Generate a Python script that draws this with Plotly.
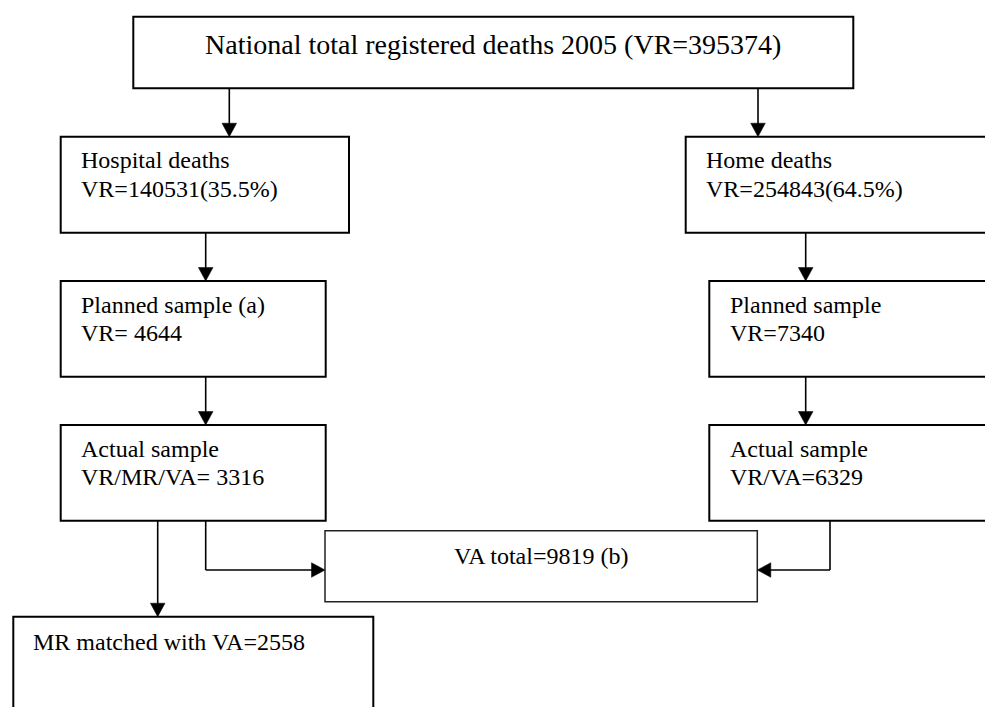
import plotly.graph_objects as go

total_label = "National total registered deaths 2005"
total_vr = 395374
hospital_vr = 140531
hospital_pct = 35.5
home_vr = 254843
home_pct = 64.5
planned_hospital = 4644
planned_home = 7340
actual_hospital = 3316
actual_home = 6329
va_total = 9819
mr_matched = 2558

W, H = 985, 707
FONT = "Liberation Serif, Times New Roman, serif"

# ---- box geometry (pixel layout) ----
boxes = {
    "top":      (133.3, 16.7, 853.3, 88.3),
    "hosp":     (60.7, 136.7, 349.0, 232.7),
    "home":     (685.7, 136.7, 1010, 232.7),
    "hplan":    (60.7, 281.0, 325.7, 376.7),
    "mplan":    (709.3, 281.0, 1010, 376.7),
    "hact":     (60.7, 425.0, 325.7, 520.7),
    "mact":     (709.3, 425.0, 1010, 520.7),
    "va":       (325.0, 530.7, 757.3, 601.7),
    "mr":       (13.3, 616.7, 373.3, 730),
}

shapes = []
for name, (x0, y0, x1, y1) in boxes.items():
    lw = 1.5 if name == "va" else 2
    col = "#222" if name == "va" else "black"
    shapes.append(dict(type="rect", xref="x", yref="y", x0=x0, y0=y0, x1=x1, y1=y1,
                       line=dict(color=col, width=lw), fillcolor="rgba(0,0,0,0)", layer="above"))

LW = 1.6
HL, HW = 13.5, 7.3  # arrowhead length, half width


def vline_arrow(x, y0, y1):
    shapes.append(dict(type="line", xref="x", yref="y", x0=x, x1=x, y0=y0, y1=y1 - HL + 1,
                       line=dict(color="black", width=LW)))
    shapes.append(dict(type="path", xref="x", yref="y",
                       path=f"M {x-HW},{y1-HL} L {x+HW},{y1-HL} L {x},{y1} Z",
                       fillcolor="black", line=dict(color="black", width=0.5)))


def elbow_arrow(x, y0, ymid, x1):
    shapes.append(dict(type="line", xref="x", yref="y", x0=x, x1=x, y0=y0, y1=ymid,
                       line=dict(color="black", width=LW)))
    d = 1 if x1 > x else -1
    shapes.append(dict(type="line", xref="x", yref="y", x0=x, x1=x1 - d * (HL - 1), y0=ymid, y1=ymid,
                       line=dict(color="black", width=LW)))
    shapes.append(dict(type="path", xref="x", yref="y",
                       path=f"M {x1-d*HL},{ymid-HW} L {x1-d*HL},{ymid+HW} L {x1},{ymid} Z",
                       fillcolor="black", line=dict(color="black", width=0.5)))


b = boxes
vline_arrow(229.3, b["top"][3], b["hosp"][1])
vline_arrow(758.0, b["top"][3], b["home"][1])
vline_arrow(205.7, b["hosp"][3], b["hplan"][1])
vline_arrow(805.7, b["home"][3], b["mplan"][1])
vline_arrow(205.7, b["hplan"][3], b["hact"][1])
vline_arrow(805.7, b["mplan"][3], b["mact"][1])
vline_arrow(157.7, b["hact"][3], b["mr"][1])
elbow_arrow(205.7, b["hact"][3], 570.0, b["va"][0])
elbow_arrow(830.0, b["mact"][3], 570.0, b["va"][2])

annotations = []


def txt(x, baseline, s, size=24, anchor="left"):
    annotations.append(dict(x=x, y=baseline - 0.34 * size, xref="x", yref="y", text=s,
                            showarrow=False, xanchor=anchor, yanchor="middle",
                            font=dict(family=FONT, size=size, color="black"), borderpad=0))


txt(493.3, 54.3, f"{total_label} (VR={total_vr})", size=28, anchor="center")
txt(80.0, 168.3, "Hospital deaths")
txt(80.0, 197.3, f"VR={hospital_vr}({hospital_pct}%)")
txt(80.0, 313.3, "Planned sample (a)")
txt(80.0, 340.7, f"VR= {planned_hospital}")
txt(80.0, 457.3, "Actual sample")
txt(80.0, 485.0, f"VR/MR/VA= {actual_hospital}")
txt(704.5, 168.3, "Home deaths")
txt(704.5, 197.3, f"VR={home_vr}({home_pct}%)")
txt(728.5, 313.3, "Planned sample")
txt(728.5, 340.7, f"VR={planned_home}")
txt(728.5, 457.3, "Actual sample")
txt(728.5, 485.0, f"VR/VA={actual_home}")
txt(541.2, 564.3, f"VA total={va_total} (b)", anchor="center")
txt(32.0, 650.0, f"MR matched with VA={mr_matched}")

fig = go.Figure()
fig.add_trace(go.Scatter(x=[0, W], y=[0, H], mode="markers", marker=dict(opacity=0),
                         hoverinfo="skip", showlegend=False))
fig.update_layout(
    width=W, height=H, margin=dict(l=0, r=0, t=0, b=0),
    paper_bgcolor="white", plot_bgcolor="white",
    xaxis=dict(range=[0, W], visible=False, fixedrange=True),
    yaxis=dict(range=[H, 0], visible=False, fixedrange=True),
    shapes=shapes, annotations=annotations, showlegend=False,
)
fig.write_html("out.html", config={"displayModeBar": False},
               post_script="document.body.style.margin='0';document.body.style.overflow='hidden';")
